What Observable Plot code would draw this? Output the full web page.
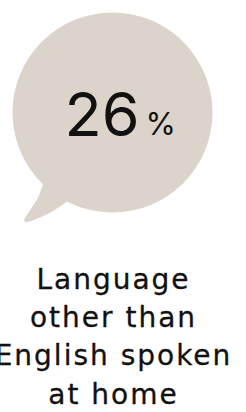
<!DOCTYPE html>
<html>
<head>
<meta charset="utf-8">
<script src="https://cdn.jsdelivr.net/npm/d3@7"></script>
<script src="https://cdn.jsdelivr.net/npm/@observablehq/plot@0.6"></script>
<style>
  html, body { margin: 0; padding: 0; background: #fff; overflow: hidden; }
</style>
</head>
<body>
<div id="chart"></div>
<script>
// Data
const value = [26];
const unit = ["%"];
const labelLines = ["Language", "other than", "English spoken", "at home"];

// Bubble shape (in layout units)
const bubble = [{x: 112, y: 112, r: 100}];
const tail = [
  {x: 46, y: 172}, {x: 38, y: 196}, {x: 24, y: 221}, {x: 48, y: 213}, {x: 72, y: 197}
];

const fillColor = "#dcd4cb";

const chart = Plot.plot({
  width: 246,
  height: 412,
  margin: 0,
  x: {domain: [0, 246], axis: null},
  y: {domain: [0, 412], reverse: true, axis: null},
  r: {type: "identity"},
  marks: [
    Plot.line(tail, {x: "x", y: "y", curve: "catmull-rom", fill: fillColor, stroke: "none"}),
    Plot.dot(bubble, {x: "x", y: "y", r: "r", fill: fillColor, stroke: "none"}),
    Plot.text(value, {x: 139, y: 116, text: d => String(d), textAnchor: "end", fontSize: 61, fontFamily: "Inter, sans-serif", fill: "#111"}),
    Plot.text(unit, {x: 145, y: 125, text: d => d, textAnchor: "start", fontSize: 31, fontFamily: "Inter, sans-serif", fill: "#111"}),
    Plot.text([labelLines.join("\n")], {x: 113, y: 261, text: d => d, textAnchor: "middle", lineAnchor: "top", lineHeight: 1.37, fontSize: 28, fontFamily: "DejaVu Sans, sans-serif", fill: "#111", stroke: "#111", strokeWidth: 0.3, className: "label"})
  ]
});
d3.select(chart).selectAll(".label text").attr("letter-spacing", "2px");
document.getElementById("chart").appendChild(chart);
</script>
</body>
</html>
